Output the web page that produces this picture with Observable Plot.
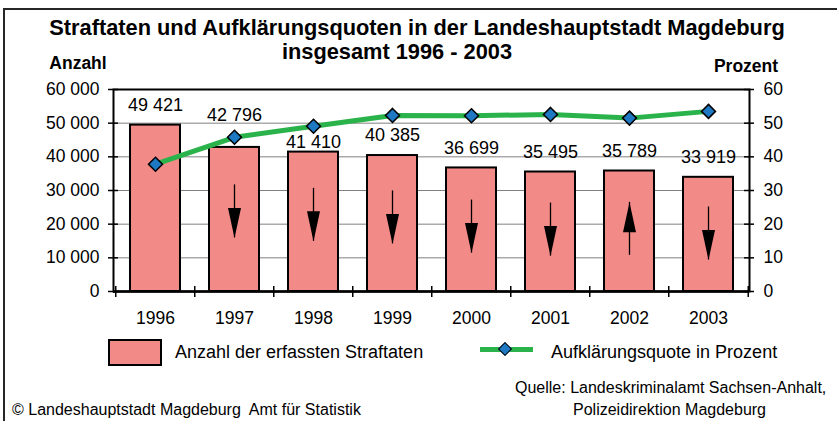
<!DOCTYPE html>
<html>
<head>
<meta charset="utf-8">
<script src="https://cdn.jsdelivr.net/npm/d3@7"></script>
<script src="https://cdn.jsdelivr.net/npm/@observablehq/plot@0.6"></script>
<style>
  body { margin: 0; background: #fff; font-family: "Liberation Sans", Arial, sans-serif; color: #000; }
  #wrap { position: relative; width: 837px; height: 421px; overflow: hidden; background: #fff; }
  .abs { position: absolute; white-space: pre; line-height: 1; }
  .c { transform: translate(-50%, -50%); }
  .l { transform: translate(0, -50%); }
  #frame { position: absolute; left: 3px; top: 8px; width: 900px; height: 500px;
           border-top: 2.5px solid #262626; border-left: 2.5px solid #262626; z-index: 5; }
  #chart { position: absolute; left: 0; top: 0; }
</style>
</head>
<body>
<div id="wrap">
  <div id="chart"></div>
  <div id="frame"></div>
  <div class="abs c" style="left:417px; top:28px; font-size:21.8px; font-weight:bold;">Straftaten und Aufklärungsquoten in der Landeshauptstadt Magdeburg</div>
  <div class="abs c" style="left:397px; top:52px; font-size:21.8px; font-weight:bold;">insgesamt 1996 - 2003</div>
  <div class="abs c" style="left:78px; top:64px; font-size:17.5px; font-weight:bold;">Anzahl</div>
  <div class="abs c" style="left:746px; top:67px; font-size:17.5px; font-weight:bold;">Prozent</div>

  <div class="abs" style="left:108px; top:339px; width:54px; height:27px; box-sizing:border-box; border:2px solid #000; background:#f28a87;"></div>
  <div class="abs l" style="left:175px; top:352px; font-size:18px;">Anzahl der erfassten Straftaten</div>
  <div class="abs" style="left:480px; top:347px; width:53px; height:5px; background:#2bb34b;"></div>
  <div class="abs" style="left:500px; top:344px; width:10px; height:10px; box-sizing:border-box; border:1.5px solid #000; background:#1e78c2; transform:rotate(45deg);"></div>
  <div class="abs l" style="left:551px; top:352px; font-size:18px;">Aufklärungsquote in Prozent</div>

  <div class="abs l" style="left:515px; top:388px; font-size:16px;">Quelle: Landeskriminalamt Sachsen-Anhalt,</div>
  <div class="abs l" style="left:573px; top:410px; font-size:16px;">Polizeidirektion Magdeburg</div>
  <div class="abs l" style="left:12px; top:410px; font-size:16px;">© Landeshauptstadt Magdeburg  Amt für Statistik</div>
</div>
<script>
// ---- data ----
const years = ["1996", "1997", "1998", "1999", "2000", "2001", "2002", "2003"];
const offences = [49421, 42796, 41410, 40385, 36699, 35495, 35789, 33919];
const clearance = [37.8, 45.8, 49.1, 52.3, 52.2, 52.6, 51.5, 53.5];
const leftTicks = [0, 10000, 20000, 30000, 40000, 50000, 60000];
const rightTicks = [0, 10, 20, 30, 40, 50, 60];

// ---- styling / layout ----
const PINK = "#f28a87", GREEN = "#2bb34b", BLUE = "#1e78c2";
const W = 837, H = 340, mt = 89, mb = 49, ml = 113, mr = 88;
const pw = W - ml - mr, ph = H - mt - mb;
const yMax = leftTicks[leftTicks.length - 1];
const ratio = yMax / rightTicks[rightTicks.length - 1];
const unitsPerPx = yMax / ph;
const step = pw / years.length;

const fmt = d3.formatLocale({decimal: ",", thousands: " ", grouping: [3], currency: ["", " €"]}).format(",d");

const yPx = v => mt + (1 - v / yMax) * ph;
const toVal = px => (mt + ph - px) / ph * yMax;

const rows = years.map((year, i) => ({year, count: offences[i], pct: clearance[i], pctY: clearance[i] * ratio}));
// value labels: above the bar, moved around the line where they would collide
rows.forEach(r => {
  const top = yPx(r.count), lp = yPx(r.pctY);
  let c = top - 20;
  if (lp > c - 12 && lp < c + 16) {
    const below = lp + 16;
    c = below <= top - 8 ? below : lp - 22;
  }
  r.labelY = toVal(c);
});

// trend arrows inside the bars (direction from the change to the previous year)
const arrows = rows.slice(1).map((r, k) => {
  const dir = r.count < rows[k].count ? "down" : "up";
  const upper = r.count * 0.74, lower = upper - 53 * unitsPerPx;
  return {year: r.year, dir, tail: dir === "down" ? upper : lower, tip: dir === "down" ? lower : upper};
});
const headDown = {draw(ctx) { ctx.moveTo(-6.5, -30); ctx.lineTo(6.5, -30); ctx.lineTo(0, 0); ctx.closePath(); }};
const headUp = {draw(ctx) { ctx.moveTo(-6.5, 30); ctx.lineTo(6.5, 30); ctx.lineTo(0, 0); ctx.closePath(); }};

const chart = Plot.plot({
  width: W, height: H,
  marginTop: mt, marginBottom: mb, marginLeft: ml, marginRight: mr,
  style: {background: "transparent", fontFamily: "'Liberation Sans', Arial, sans-serif", fontSize: "17.5px", overflow: "visible"},
  x: {domain: years, paddingInner: 0.37, paddingOuter: 0.185, label: null},
  y: {domain: [0, yMax], label: null},
  marks: [
    Plot.ruleY(leftTicks.slice(1, -1), {stroke: "#808080", strokeWidth: 1}),
    Plot.barY(rows, {x: "year", y: "count", fill: PINK, stroke: "#000", strokeWidth: 2}),
    Plot.frame({stroke: "#000", strokeWidth: 2}),
    Plot.ruleY([0], {stroke: "#000", strokeWidth: 2.5}),
    Plot.ruleY(leftTicks, {insetLeft: -5, insetRight: pw - 5, stroke: "#000", strokeWidth: 1.5}),
    Plot.ruleY(leftTicks, {insetLeft: pw - 5, insetRight: -5, stroke: "#000", strokeWidth: 1.5}),
    Plot.ruleX(years, {dx: -step / 2, insetTop: ph - 5, insetBottom: -6, stroke: "#000", strokeWidth: 1.5}),
    Plot.ruleX([years[years.length - 1]], {dx: step / 2, insetTop: ph - 5, insetBottom: -6, stroke: "#000", strokeWidth: 1.5}),
    Plot.axisY({anchor: "left", ticks: leftTicks, tickSize: 0, tickPadding: 14, tickFormat: fmt, fontSize: 17.5, label: null}),
    Plot.axisY({anchor: "right", ticks: rightTicks.map(t => t * ratio), tickSize: 0, tickPadding: 14, tickFormat: d => String(d / ratio), fontSize: 17.5, label: null}),
    Plot.axisX({tickSize: 0, tickPadding: 20, fontSize: 17.5, label: null}),
    Plot.ruleX(arrows, {x: "year", y1: "tail", y2: "tip", stroke: "#000", strokeWidth: 1.3}),
    Plot.dot(arrows.filter(a => a.dir === "down"), {x: "year", y: "tip", symbol: headDown, fill: "#000", stroke: "none"}),
    Plot.dot(arrows.filter(a => a.dir === "up"), {x: "year", y: "tip", symbol: headUp, fill: "#000", stroke: "none"}),
    Plot.line(rows, {x: "year", y: "pctY", stroke: GREEN, strokeWidth: 5}),
    Plot.dot(rows, {x: "year", y: "pctY", symbol: "diamond2", r: 6.3, fill: BLUE, stroke: "#000", strokeWidth: 1.5}),
    Plot.text(rows, {x: "year", y: "labelY", text: d => fmt(d.count), fontSize: 18, fill: "#000"})
  ]
});
document.getElementById("chart").appendChild(chart);
</script>
</body>
</html>
